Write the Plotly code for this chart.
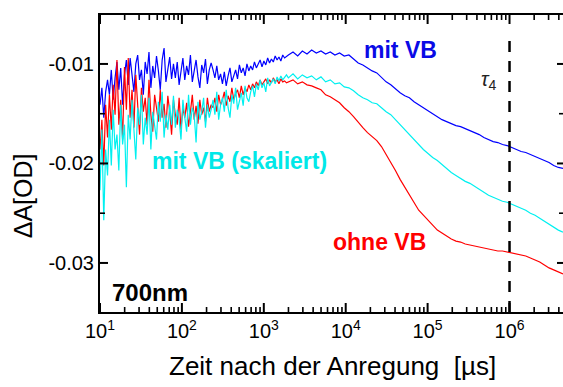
import numpy as np
import plotly.graph_objects as go

# ---- time grid (µs) ----
t_early = np.logspace(1, 3.3, 100, endpoint=False)
t_late = np.logspace(3.3, 6.653, 60)
time_us = np.concatenate([t_early, t_late])

# ---- ΔA series ----
mit_vb_early = [
    -0.0141, -0.0124, -0.0154, -0.0128, -0.0116,
    -0.0131, -0.0106, -0.0136, -0.0114, -0.0098, -0.0126, -0.0104, -0.0141, -0.0111, -0.0096,
    -0.0121, -0.0094, -0.0112, -0.0128, -0.0100, -0.0091, -0.0116, -0.0106, -0.0131, -0.0098,
    -0.0110, -0.0088, -0.0124, -0.0102, -0.0114, -0.0092, -0.0107, -0.0126, -0.0096, -0.0084,
    -0.0118, -0.0104, -0.0093, -0.0115, -0.0100,
    -0.0114, -0.0098, -0.0121, -0.0106, -0.0094, -0.0116, -0.0102, -0.0111, -0.0091, -0.0118,
    -0.0105, -0.0096, -0.0113, -0.0124, -0.0101, -0.0109, -0.0095, -0.0120, -0.0106, -0.0099,
    -0.0106, -0.0114, -0.0102, -0.0116, -0.0110, -0.0120, -0.0108, -0.0122, -0.0112, -0.0104,
    -0.0118, -0.0111, -0.0106, -0.0115, -0.0101, -0.0109, -0.0104, -0.0112, -0.0100, -0.0107,
    -0.0102, -0.0106, -0.0098, -0.0104, -0.0100, -0.0096, -0.0103, -0.0097, -0.0101, -0.0094,
    -0.0099, -0.0095, -0.0098, -0.0092, -0.0096, -0.0093, -0.0097, -0.0091, -0.0094, -0.0092,
]
mit_vb_late = [
    -0.0091, -0.0088, -0.0092, -0.0087, -0.0090, -0.0086, -0.0089, -0.0087, -0.0090, -0.0088,
    -0.0091, -0.0089, -0.0092, -0.0091, -0.0095, -0.0099, -0.0101, -0.0104, -0.0107, -0.0109,
    -0.0114, -0.0118, -0.0121, -0.0125, -0.0129, -0.0132, -0.0134, -0.0138, -0.0141, -0.0144,
    -0.0147, -0.0150, -0.0153, -0.0156, -0.0158, -0.0160, -0.0162, -0.0163, -0.0165, -0.0167,
    -0.0169, -0.0171, -0.0174, -0.0176, -0.0178, -0.0179, -0.0181, -0.0182, -0.0184, -0.0186,
    -0.0188, -0.0189, -0.0191, -0.0193, -0.0195, -0.0197, -0.0199, -0.0202, -0.0204, -0.0205,
]

skaliert_early = [
    -0.0227, -0.0166, -0.0257, -0.0186, -0.0212,
    -0.0156, -0.0202, -0.0146, -0.0186, -0.0171, -0.0207, -0.0141, -0.0181, -0.0161, -0.0224,
    -0.0151, -0.0176, -0.0136, -0.0166, -0.0196, -0.0144, -0.0161, -0.0131, -0.0181, -0.0154,
    -0.0171, -0.0134, -0.0186, -0.0148, -0.0164, -0.0176, -0.0138, -0.0158, -0.0128, -0.0174,
    -0.0151, -0.0166, -0.0141, -0.0161, -0.0132,
    -0.0164, -0.0146, -0.0156, -0.0176, -0.0136, -0.0154, -0.0168, -0.0131, -0.0161, -0.0144,
    -0.0151, -0.0179, -0.0138, -0.0156, -0.0148, -0.0134, -0.0164, -0.0141, -0.0154, -0.0146,
    -0.0136, -0.0151, -0.0128, -0.0156, -0.0141, -0.0134, -0.0148, -0.0126, -0.0144, -0.0154,
    -0.0131, -0.0140, -0.0124, -0.0146, -0.0136, -0.0129, -0.0142, -0.0122, -0.0134, -0.0138,
    -0.0128, -0.0122, -0.0133, -0.0120, -0.0126, -0.0116, -0.0124, -0.0119, -0.0128, -0.0114,
    -0.0122, -0.0118, -0.0115, -0.0120, -0.0113, -0.0117, -0.0112, -0.0116, -0.0114, -0.0111,
]
skaliert_late = [
    -0.0114, -0.0110, -0.0115, -0.0111, -0.0114, -0.0112, -0.0116, -0.0113, -0.0118, -0.0116,
    -0.0120, -0.0119, -0.0123, -0.0124, -0.0127, -0.0131, -0.0134, -0.0136, -0.0139, -0.0140,
    -0.0144, -0.0148, -0.0151, -0.0156, -0.0161, -0.0166, -0.0172, -0.0177, -0.0181, -0.0186,
    -0.0190, -0.0194, -0.0197, -0.0201, -0.0205, -0.0209, -0.0212, -0.0215, -0.0218, -0.0220,
    -0.0223, -0.0226, -0.0229, -0.0232, -0.0234, -0.0236, -0.0238, -0.0239, -0.0241, -0.0243,
    -0.0245, -0.0247, -0.0250, -0.0252, -0.0255, -0.0258, -0.0261, -0.0264, -0.0267, -0.0269,
]

ohne_vb_early = [
    -0.0186, -0.0156, -0.0202, -0.0141, -0.0174,
    -0.0131, -0.0166, -0.0121, -0.0151, -0.0096, -0.0161, -0.0136, -0.0176, -0.0103, -0.0146,
    -0.0094, -0.0154, -0.0126, -0.0164, -0.0111, -0.0141, -0.0171, -0.0124, -0.0148, -0.0134,
    -0.0161, -0.0116, -0.0151, -0.0168, -0.0131, -0.0144, -0.0158, -0.0126, -0.0154, -0.0140,
    -0.0164, -0.0132, -0.0148, -0.0171, -0.0136,
    -0.0151, -0.0161, -0.0134, -0.0166, -0.0144, -0.0154, -0.0139, -0.0163, -0.0148, -0.0131,
    -0.0156, -0.0142, -0.0160, -0.0136, -0.0151, -0.0144, -0.0158, -0.0134, -0.0148, -0.0141,
    -0.0144, -0.0134, -0.0148, -0.0131, -0.0141, -0.0136, -0.0128, -0.0142, -0.0132, -0.0138,
    -0.0124, -0.0136, -0.0130, -0.0126, -0.0134, -0.0122, -0.0131, -0.0124, -0.0128, -0.0121,
    -0.0126, -0.0120, -0.0124, -0.0118, -0.0122, -0.0116, -0.0121, -0.0118, -0.0115, -0.0120,
    -0.0116, -0.0119, -0.0114, -0.0118, -0.0116, -0.0120, -0.0115, -0.0118, -0.0117, -0.0119,
]
ohne_vb_late = [
    -0.0118, -0.0116, -0.0120, -0.0118, -0.0121, -0.0122, -0.0124, -0.0126, -0.0131, -0.0133,
    -0.0136, -0.0139, -0.0144, -0.0148, -0.0153, -0.0159, -0.0164, -0.0169, -0.0173, -0.0177,
    -0.0183, -0.0191, -0.0198, -0.0207, -0.0216, -0.0224, -0.0232, -0.0240, -0.0247, -0.0252,
    -0.0257, -0.0263, -0.0267, -0.0270, -0.0273, -0.0276, -0.0278, -0.0279, -0.0281, -0.0282,
    -0.0283, -0.0284, -0.0285, -0.0286, -0.0287, -0.0288, -0.0288, -0.0289, -0.0290, -0.0291,
    -0.0292, -0.0293, -0.0295, -0.0297, -0.0299, -0.0302, -0.0305, -0.0307, -0.0309, -0.0311,
]

mit_vb = mit_vb_early + mit_vb_late
mit_vb_skaliert = skaliert_early + skaliert_late
ohne_vb = ohne_vb_early + ohne_vb_late

tau4 = 1.0e6

# ---- ticks ----
x_major = [1e1, 1e2, 1e3, 1e4, 1e5, 1e6]
x_labels = ["10<sup>1</sup>", "10<sup>2</sup>", "10<sup>3</sup>",
            "10<sup>4</sup>", "10<sup>5</sup>", "10<sup>6</sup>"]
x_minor = [m * 10 ** e for e in range(1, 7) for m in range(2, 10) if m * 10 ** e < 4.4e6]
y_major = [-0.01, -0.02, -0.03]
y_labels = ["-0.01", "-0.02", "-0.03"]
y_minor = [-0.015, -0.025]
y_range = [-0.03493, -0.00508]

FONT = "Liberation Sans, Arial, Helvetica, sans-serif"

fig = go.Figure()
fig.add_trace(go.Scatter(x=time_us, y=mit_vb, mode="lines",
                         line=dict(color="#0000ff", width=1.2)))
fig.add_trace(go.Scatter(x=time_us, y=ohne_vb, mode="lines",
                         line=dict(color="#ff0000", width=1.2)))
fig.add_trace(go.Scatter(x=time_us, y=mit_vb_skaliert, mode="lines",
                         line=dict(color="#00f0f0", width=1.2)))

fig.add_shape(type="line", xref="x", yref="paper", x0=tau4, x1=tau4, y0=0, y1=0.94,
              line=dict(color="black", width=2.5, dash="11px,9px"))

# tick marks (inside) drawn as pixel-sized shapes anchored at the axis values
TICK = dict(color="black", width=2)
TICK_MINOR = dict(color="black", width=1.6)
for vals, length, style in ((x_major, 9, TICK), (x_minor, 5, TICK_MINOR)):
    for v in vals:
        fig.add_shape(type="line", xref="x", yref="paper", x0=v, x1=v,
                      ysizemode="pixel", yanchor=0, y0=0, y1=length, line=style)
        fig.add_shape(type="line", xref="x", yref="paper", x0=v, x1=v,
                      ysizemode="pixel", yanchor=1, y0=0, y1=-length, line=style)
for vals, length, rlen, style in ((y_major, 8, 6, TICK), (y_minor, 5, 4, TICK_MINOR)):
    for v in vals:
        fig.add_shape(type="line", yref="y", xref="paper", y0=v, y1=v,
                      xsizemode="pixel", xanchor=0, x0=0, x1=length, line=style)
        fig.add_shape(type="line", yref="y", xref="paper", y0=v, y1=v,
                      xsizemode="pixel", xanchor=1, x0=0, x1=-rlen, line=style)

ann = [
    dict(text="<b>mit VB</b>", x=0.648, y=0.882, color="#0a0ae6", size=23),
    dict(text="<b>mit VB (skaliert)</b>", x=0.301, y=0.508, color="#00e8e8", size=23),
    dict(text="<b>ohne VB</b>", x=0.603, y=0.236, color="#ff0000", size=23),
    dict(text="<b>700nm</b>", x=0.108, y=0.067, color="black", size=24),
    dict(text="<i>τ</i><sub>4</sub>", x=0.840, y=0.781, color="#222222", size=20),
]
for a in ann:
    fig.add_annotation(text=a["text"], x=a["x"], y=a["y"], xref="paper", yref="paper",
                       showarrow=False, xanchor="center", yanchor="middle",
                       font=dict(family=FONT, size=a["size"], color=a["color"]))

fig.add_annotation(text="Zeit nach der Anregung  [µs]", x=0.502, y=-0.182,
                   xref="paper", yref="paper", showarrow=False,
                   xanchor="center", yanchor="middle",
                   font=dict(family=FONT, size=26, color="black"))
fig.add_annotation(text="ΔA[OD]", x=-0.166, y=0.39, textangle=-90,
                   xref="paper", yref="paper", showarrow=False,
                   xanchor="center", yanchor="middle",
                   font=dict(family=FONT, size=25, color="black"))

fig.update_layout(
    width=563, height=387,
    margin=dict(l=100, r=0, t=15, b=75),
    paper_bgcolor="white", plot_bgcolor="white", showlegend=False,
    font=dict(family=FONT, color="black"),
    xaxis=dict(type="log", range=[1, 6.653], showline=True, linecolor="black", linewidth=2,
               mirror=True, ticks="",
               tickmode="array", tickvals=x_major, ticktext=x_labels,
               tickfont=dict(family=FONT, size=20, color="black"),
               showgrid=False, zeroline=False),
    yaxis=dict(range=y_range, showline=True, linecolor="black", linewidth=2,
               ticks="",
               tickmode="array", tickvals=y_major, ticktext=y_labels,
               tickfont=dict(family=FONT, size=20, color="black"),
               showgrid=False, zeroline=False),
)

fig.write_html("out.html")
